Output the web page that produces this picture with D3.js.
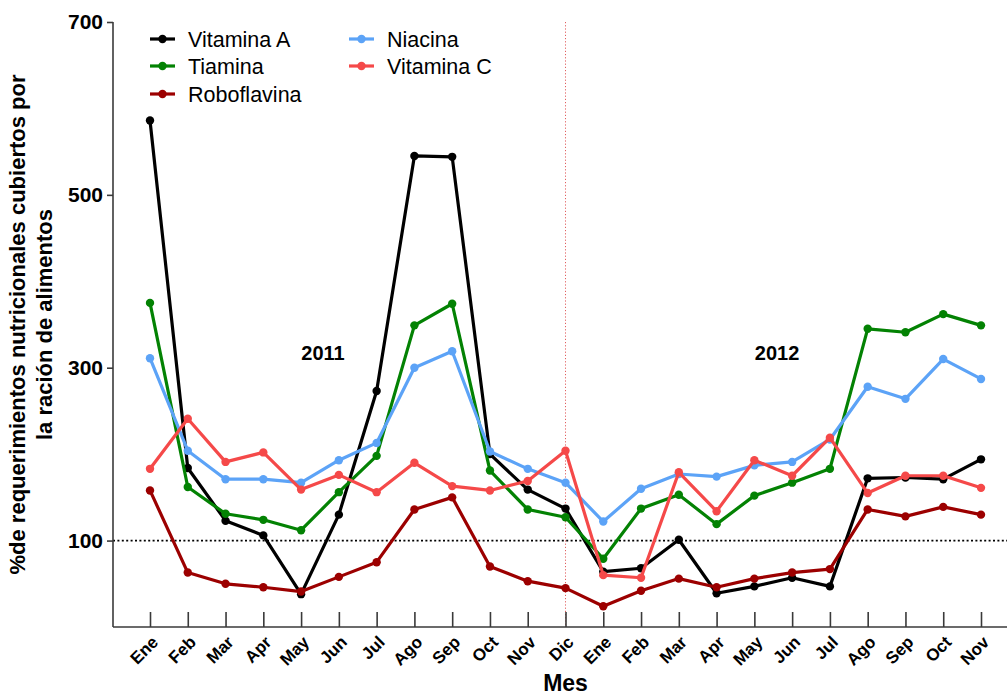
<!DOCTYPE html>
<html>
<head>
<meta charset="utf-8">
<script src="https://cdn.jsdelivr.net/npm/d3@7"></script>
<style>
  html, body { margin: 0; padding: 0; background: #fff; }
  svg { display: block; font-family: "Liberation Sans", Arial, Helvetica, sans-serif; }
</style>
</head>
<body>
<svg id="chart" width="1007" height="696"></svg>
<script>
// ---- data ----
const months = ["Ene","Feb","Mar","Apr","May","Jun","Jul","Ago","Sep","Oct","Nov","Dic",
                "Ene","Feb","Mar","Apr","May","Jun","Jul","Ago","Sep","Oct","Nov"];
const vitaminaA   = [586, 184, 123, 106, 38, 130, 273, 545, 544, 200, 159, 137, 64, 68, 101, 39, 47, 57, 47, 172, 173, 171, 194];
const tiamina     = [375, 162, 131, 124, 112, 156, 198, 349, 374, 181, 136, 127, 79, 137, 153, 119, 152, 167, 183, 345, 341, 362, 349];
const roboflavina = [158, 63, 50, 46, 41, 58, 75, 136, 150, 70, 53, 45, 24, 42, 56, 46, 56, 63, 67, 136, 128, 139, 130];
const niacina     = [311, 204, 171, 171, 167, 193, 213, 300, 319, 203, 183, 167, 122, 160, 177, 174, 187, 191, 217, 278, 264, 310, 287];
const vitaminaC   = [183, 241, 191, 202, 159, 176, 156, 190, 163, 158, 169, 204, 60, 57, 179, 134, 193, 175, 219, 155, 175, 175, 161];
const yTicks = [100, 300, 500, 700];
const seriesNames = ["Vitamina A", "Tiamina", "Roboflavina", "Niacina", "Vitamina C"];
const refValue = 100;
const dividerIndex = 11;
const years = [{label: "2011", pos: 4.58, val: 309}, {label: "2012", pos: 16.6, val: 309}];

const colors = {
  "Vitamina A": "#000000",
  "Tiamina": "#038203",
  "Roboflavina": "#9c0000",
  "Niacina": "#5ca3f7",
  "Vitamina C": "#f54949"
};
const seriesData = {
  "Vitamina A": vitaminaA,
  "Tiamina": tiamina,
  "Roboflavina": roboflavina,
  "Niacina": niacina,
  "Vitamina C": vitaminaC
};

// ---- layout ----
const svg = d3.select("#chart");
const axisX = 113, axisBottom = 627, axisTop = 22;
const x = d3.scaleLinear().domain([0, months.length - 1]).range([150, 981]);
const y = d3.scaleLinear().domain([0, 700]).range([axisBottom, axisTop]);
const axisColor = "#3a3a3a";

// reference lines
svg.append("line")
  .attr("x1", axisX).attr("x2", 1007)
  .attr("y1", y(refValue)).attr("y2", y(refValue))
  .attr("stroke", "#000").attr("stroke-width", 1.8)
  .attr("stroke-dasharray", "2,2.4");

svg.append("line")
  .attr("x1", x(dividerIndex)).attr("x2", x(dividerIndex))
  .attr("y1", y(700)).attr("y2", axisBottom)
  .attr("stroke", "#e06060").attr("stroke-width", 1)
  .attr("stroke-dasharray", "1.2,2");

// y axis
const yAxis = d3.axisLeft(y).tickValues(yTicks).tickSize(6).tickPadding(4).tickFormat(d3.format("d"));
const gy = svg.append("g").attr("transform", `translate(${axisX},0)`).call(yAxis);
gy.select(".domain").attr("stroke", axisColor).attr("stroke-width", 1.6)
  .attr("d", `M-0,${axisTop}V${axisBottom}`);
gy.selectAll(".tick line").attr("stroke", axisColor).attr("stroke-width", 1.6);
gy.selectAll(".tick text")
  .attr("fill", "#000").style("font-size", "21px").style("font-weight", "bold")
  .style("font-family", "'Liberation Sans', Arial, sans-serif");

// x axis (ticks inside)
const xAxis = d3.axisBottom(x).tickValues(d3.range(months.length)).tickSize(-15).tickFormat("");
const gx = svg.append("g").attr("transform", `translate(0,${axisBottom})`).call(xAxis);
gx.select(".domain").attr("stroke", axisColor).attr("stroke-width", 1.6)
  .attr("d", `M${axisX},0H1007`);
gx.selectAll(".tick line").attr("stroke", axisColor).attr("stroke-width", 1.6);

// x tick labels rotated
svg.append("g").selectAll("text").data(months).join("text")
  .attr("transform", (d, i) => `translate(${x(i) + 5},${axisBottom + 12}) rotate(-45)`)
  .attr("text-anchor", "end")
  .attr("dy", "0.35em")
  .style("font-size", "17px").style("font-weight", "bold")
  .attr("fill", "#000")
  .text(d => d);

// axis titles
svg.append("text")
  .attr("x", x(dividerIndex)).attr("y", 691)
  .attr("text-anchor", "middle")
  .style("font-size", "23px").style("font-weight", "bold")
  .text("Mes");

const yTitle = svg.append("text")
  .attr("transform", `translate(0,${(axisTop + axisBottom) / 2}) rotate(-90)`)
  .attr("text-anchor", "middle")
  .style("font-size", "22px").style("font-weight", "bold");
yTitle.append("tspan").attr("x", 0).attr("y", 25).text("%de requerimientos nutricionales cubiertos por");
yTitle.append("tspan").attr("x", 0).attr("y", 52).text("la ración de alimentos");

// year labels
svg.append("g").selectAll("text").data(years).join("text")
  .attr("x", d => x(d.pos)).attr("y", d => y(d.val))
  .attr("text-anchor", "middle")
  .style("font-size", "20px").style("font-weight", "bold")
  .text(d => d.label);

// series
const line = d3.line().x((d, i) => x(i)).y(d => y(d));
seriesNames.forEach(name => {
  const g = svg.append("g");
  g.append("path")
    .datum(seriesData[name])
    .attr("fill", "none")
    .attr("stroke", colors[name])
    .attr("stroke-width", 3.2)
    .attr("stroke-linejoin", "round")
    .attr("d", line);
  g.selectAll("circle").data(seriesData[name]).join("circle")
    .attr("cx", (d, i) => x(i)).attr("cy", d => y(d))
    .attr("r", 4.2)
    .attr("fill", colors[name]);
});

// legend
const legendPos = [
  {name: "Vitamina A", lx: 150, ly: 39},
  {name: "Tiamina", lx: 150, ly: 66},
  {name: "Roboflavina", lx: 150, ly: 94},
  {name: "Niacina", lx: 349, ly: 39},
  {name: "Vitamina C", lx: 349, ly: 66}
];
const lg = svg.append("g").selectAll("g").data(legendPos).join("g")
  .attr("transform", d => `translate(${d.lx},${d.ly})`);
lg.append("line").attr("x1", 0).attr("x2", 25).attr("y1", 0).attr("y2", 0)
  .attr("stroke", d => colors[d.name]).attr("stroke-width", 3.2);
lg.append("circle").attr("cx", 12.5).attr("cy", 0).attr("r", 4.2)
  .attr("fill", d => colors[d.name]);
lg.append("text").attr("x", 38).attr("y", 0).attr("dy", "0.35em")
  .style("font-size", "21.5px")
  .text(d => d.name);
</script>
</body>
</html>
